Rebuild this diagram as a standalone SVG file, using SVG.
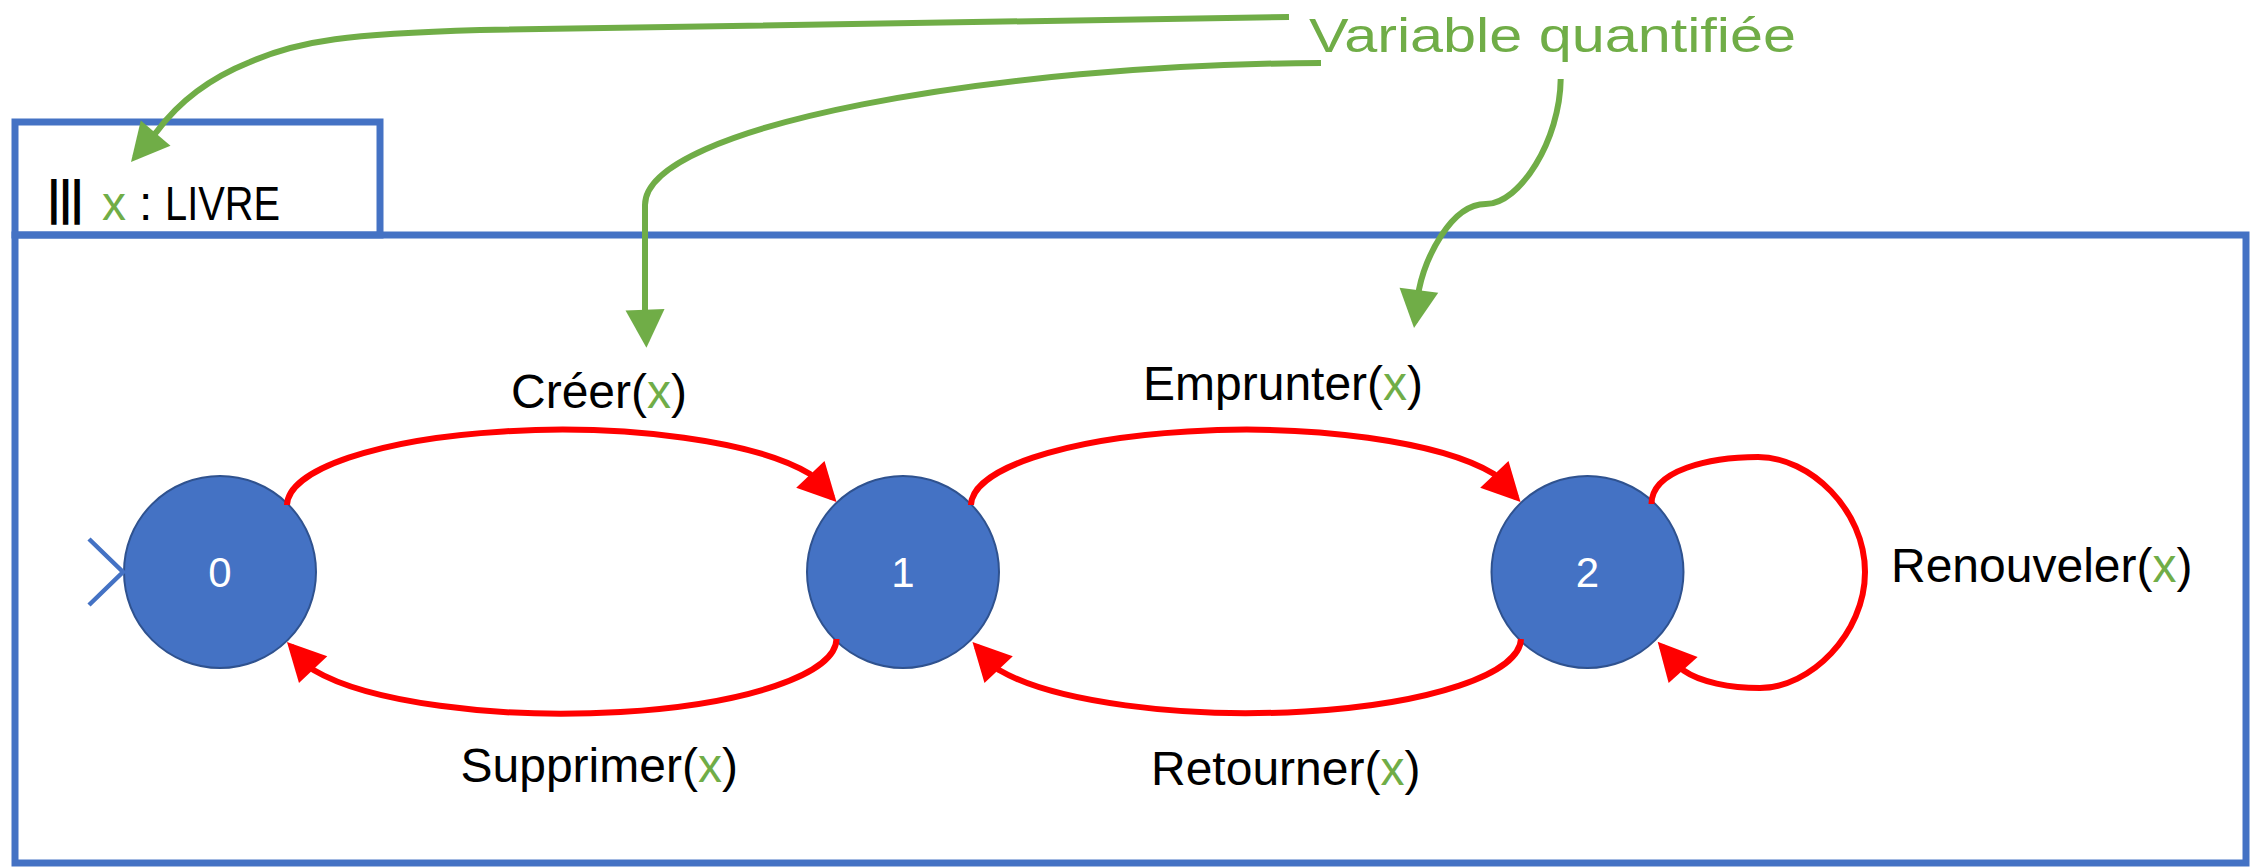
<svg xmlns="http://www.w3.org/2000/svg" width="2254" height="867" viewBox="0 0 2254 867">
  <style>
    .frame { fill: none; stroke: #4472C4; stroke-width: 7; }
    .state circle { fill: #4472C4; stroke: #2F528F; stroke-width: 2; }
    .state text { fill: #FFFFFF; font-family: "Liberation Sans", Arial, sans-serif; font-size: 42px; text-anchor: middle; }
    .label { fill: #000000; font-family: "Liberation Sans", Arial, sans-serif; font-size: 48px; }
    .var { fill: #70AD47; }
    .edge { fill: none; stroke: #FF0000; stroke-width: 6; marker-end: url(#head-red); }
    .pointer { fill: none; stroke: #70AD47; stroke-width: 6; marker-end: url(#head-green); }
    .initial { fill: none; stroke: #4472C4; stroke-width: 4.5; }
  </style>
  <defs>
    <marker id="head-red" markerUnits="userSpaceOnUse" markerWidth="40" markerHeight="40" refX="32" refY="19.5" orient="auto" overflow="visible">
      <path d="M0,0 L38,19.5 L0,39 Z" fill="#FF0000"/>
    </marker>
    <marker id="head-green" markerUnits="userSpaceOnUse" markerWidth="40" markerHeight="40" refX="32" refY="19.5" orient="auto" overflow="visible">
      <path d="M0,0 L38,19.5 L0,39 Z" fill="#70AD47"/>
    </marker>
  </defs>

  <!-- quantifier tab and process frame -->
  <g id="quantifier">
    <rect class="frame" x="15" y="122" width="365" height="113"/>
    <text class="label" x="48" y="214" font-size="64" font-weight="bold" textLength="35" lengthAdjust="spacingAndGlyphs">|||</text>
    <text class="label var" x="102" y="220">x</text>
    <text class="label" x="139" y="220">:</text>
    <text class="label" x="165" y="220" textLength="115" lengthAdjust="spacingAndGlyphs">LIVRE</text>
  </g>
  <g id="process">
    <rect class="frame" x="15" y="235" width="2231" height="628"/>
  </g>

  <!-- states -->
  <g id="node-0" class="state">
    <circle cx="220" cy="572" r="96"/>
    <text x="220" y="587">0</text>
  </g>
  <g id="node-1" class="state">
    <circle cx="903" cy="572" r="96"/>
    <text x="903" y="587">1</text>
  </g>
  <g id="node-2" class="state">
    <circle cx="1587.5" cy="572" r="96"/>
    <text x="1587.5" y="587">2</text>
  </g>

  <!-- annotation -->
  <g id="annotation">
    <text class="label var" x="1309" y="52" font-size="58" textLength="487" lengthAdjust="spacingAndGlyphs">Variable quantifiée</text>
  </g>

  <!-- transitions and pointers -->
  <g id="connectors">
    <polyline class="initial" points="89,539 123,572 89,605"/>

    <path class="edge" d="M287,505 A274,76 0 0 1 810,474 L832.4,497.6"/>
    <path class="edge" d="M971,505 A274,76 0 0 1 1494,474 L1516.4,497.6"/>
    <path class="edge" d="M836.5,639 A274,75 0 0 1 313.5,670 L291.1,646.4"/>
    <path class="edge" d="M1521,639 A274,75 0 0 1 999,670 L976.6,646.4"/>
    <path class="edge" d="M1651.5,504 C1651.5,470 1710,457 1758,457 C1810,457 1865,510 1865,572 C1865,634 1810,688 1760,688 C1730,688 1700,682 1683.6,670.5 L1661.7,646.2"/>

    <path class="pointer" d="M1289,17 L480,30 C350,34 300,40 250,62 C210,78 180,100 156.5,132 L134.9,157.4"/>
    <path class="pointer" d="M1321,63 C1000,64 645,125 645,205 L645,309 L646.2,341.7"/>
    <path class="pointer" d="M1560.7,79 C1560,140 1520,204 1485.7,204 C1450,204 1425,260 1419,289.5 L1414.8,322"/>
  </g>

  <!-- transition labels -->
  <g id="labels">
    <text class="label" x="511" y="408" font-size="46">Créer(<tspan class="var">x</tspan>)</text>
    <text class="label" x="1143" y="400">Emprunter(<tspan class="var">x</tspan>)</text>
    <text class="label" x="460.5" y="782">Supprimer(<tspan class="var">x</tspan>)</text>
    <text class="label" x="1151" y="785">Retourner(<tspan class="var">x</tspan>)</text>
    <text class="label" x="1891" y="582" font-size="47">Renouveler(<tspan class="var">x</tspan>)</text>
  </g>
</svg>
